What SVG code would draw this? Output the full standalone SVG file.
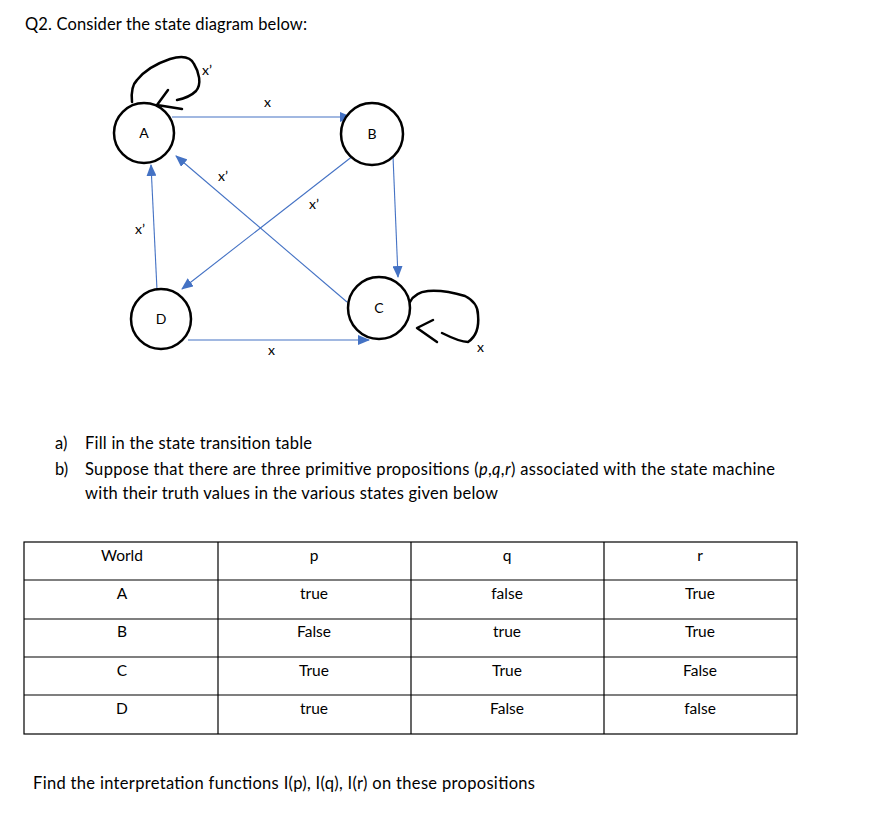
<svg xmlns="http://www.w3.org/2000/svg" width="872" height="817" viewBox="0 0 872 817">
<defs>
<style>
.t{font-family:Lato,"Liberation Sans",sans-serif;font-size:16.5px;fill:#000}
.s{font-family:Lato,"Liberation Sans",sans-serif;font-size:14px;fill:#000}
.c{font-family:Lato,"Liberation Sans",sans-serif;font-size:15.5px;fill:#000;text-anchor:middle}
.n{fill:#fff;stroke:#000;stroke-width:2.5}
.e{fill:none;stroke:#4472C4;stroke-width:1.1;marker-end:url(#ah)}
.h{fill:none;stroke:#000;stroke-width:2.5;stroke-linecap:round;stroke-linejoin:round}
.g{stroke:#000;stroke-width:1.2}
</style>
<marker id="ah" markerWidth="12" markerHeight="10" refX="11" refY="5" orient="auto" markerUnits="userSpaceOnUse">
<path d="M0,0 L12,5 L0,10 Z" fill="#4472C4"/>
</marker>
</defs>
<rect width="872" height="817" fill="#fff"/>
<text class="t" x="25" y="30" textLength="282">Q2. Consider the state diagram below:</text>

<g id="connectors">
<line class="e" x1="172" y1="117" x2="351" y2="117"/>
<line class="e" x1="393" y1="156" x2="398" y2="277"/>
<line class="e" x1="188" y1="340" x2="369" y2="340"/>
<line class="e" x1="157" y1="290" x2="151" y2="165"/>
<line class="e" x1="347" y1="302" x2="176" y2="156"/>
<line class="e" x1="358" y1="152" x2="182" y2="289"/>
<path class="h" d="M132,102 C131,92 132,85 137,80 C145,70 158,63 170,59 C180,56 190,56 194,64 C199,72 202,84 196,91 C190,97 182,99 177,100"/>
<path class="h" d="M168,90 L157,105 L182,109"/>
<path class="h" d="M410,302 C413,296 418,292 428,291 C440,290 455,293 465,296 C473,300 478,307 478,315 C479,325 477,336 468,342 C462,342 452,338 442,333"/>
<path class="h" d="M433,320 L417,328 L437,342"/>
<text class="s" x="264" y="107">x</text>
<text class="s" x="218" y="181">x’</text>
<text class="s" x="309" y="209">x’</text>
<text class="s" x="135" y="234">x’</text>
<text class="s" x="268" y="355">x</text>
<text class="s" x="202" y="75">x’</text>
<text class="s" x="477" y="352">x</text>
</g>

<g id="node-A"><circle class="n" cx="144" cy="133" r="30"/><text class="s" x="144" y="138" text-anchor="middle">A</text></g>
<g id="node-B"><circle class="n" cx="372" cy="134" r="31"/><text class="s" x="372" y="139" text-anchor="middle">B</text></g>
<g id="node-C"><circle class="n" cx="379" cy="308" r="31"/><text class="s" x="379" y="313" text-anchor="middle">C</text></g>
<g id="node-D"><circle class="n" cx="161" cy="319" r="30"/><text class="s" x="161" y="324" text-anchor="middle">D</text></g>

<text class="t" x="55" y="449">a)</text>
<text class="t" x="85" y="449" textLength="227">Fill in the state transition table</text>
<text class="t" x="55" y="475">b)</text>
<text class="t" x="85" y="475" textLength="690">Suppose that there are three primitive propositions (<tspan font-style="italic">p</tspan>,<tspan font-style="italic">q</tspan>,<tspan font-style="italic">r</tspan>) associated with the state machine</text>
<text class="t" x="85" y="499" textLength="413">with their truth values in the various states given below</text>

<g id="table">
<rect x="24" y="542" width="773" height="192" fill="none" class="g"/>
<line class="g" x1="24" y1="580" x2="797" y2="580"/>
<line class="g" x1="24" y1="619" x2="797" y2="619"/>
<line class="g" x1="24" y1="657" x2="797" y2="657"/>
<line class="g" x1="24" y1="695" x2="797" y2="695"/>
<line class="g" x1="218" y1="542" x2="218" y2="734"/>
<line class="g" x1="411" y1="542" x2="411" y2="734"/>
<line class="g" x1="604" y1="542" x2="604" y2="734"/>
<text class="c" x="122" y="561">World</text>
<text class="c" x="314" y="561">p</text>
<text class="c" x="507" y="561">q</text>
<text class="c" x="700" y="561">r</text>
<text class="c" x="122" y="599">A</text>
<text class="c" x="314" y="599">true</text>
<text class="c" x="507" y="599">false</text>
<text class="c" x="700" y="599">True</text>
<text class="c" x="122" y="637">B</text>
<text class="c" x="314" y="637">False</text>
<text class="c" x="507" y="637">true</text>
<text class="c" x="700" y="637">True</text>
<text class="c" x="122" y="676">C</text>
<text class="c" x="314" y="676">True</text>
<text class="c" x="507" y="676">True</text>
<text class="c" x="700" y="676">False</text>
<text class="c" x="122" y="714">D</text>
<text class="c" x="314" y="714">true</text>
<text class="c" x="507" y="714">False</text>
<text class="c" x="700" y="714">false</text>
</g>

<text class="t" x="33" y="789" textLength="502">Find the interpretation functions I(p), I(q), I(r) on these propositions</text>
</svg>
